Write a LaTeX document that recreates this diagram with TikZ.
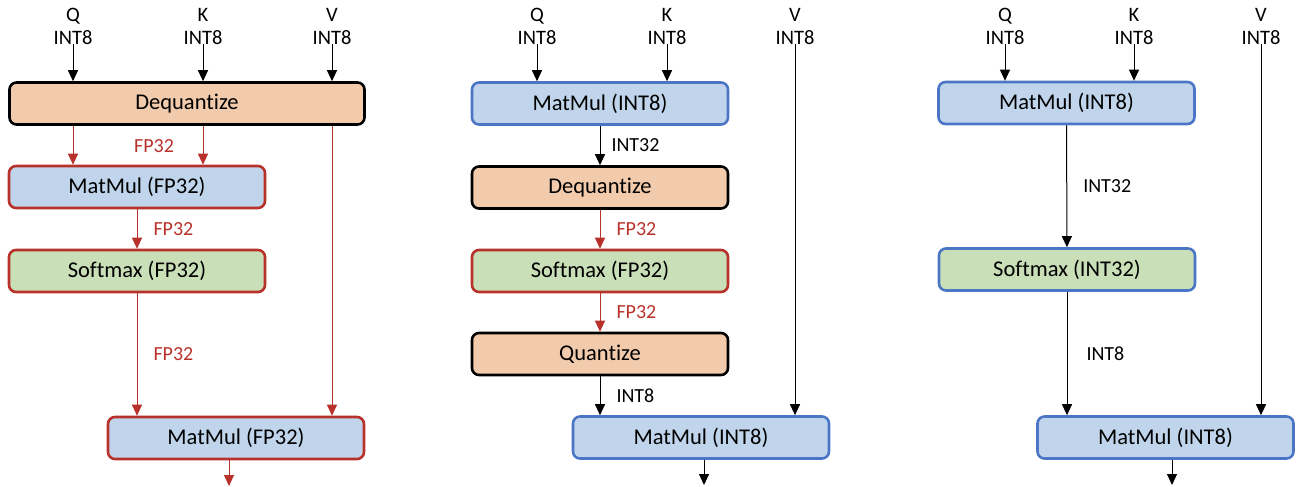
\documentclass[tikz,border=0pt]{standalone}
\usepackage{fontspec}
\setmainfont{Carlito}[RawFeature=-liga]
\usetikzlibrary{arrows.meta}

\definecolor{peach}{HTML}{F2CBAC}
\definecolor{lightblue}{HTML}{C0D5EB}
\definecolor{lightgreen}{HTML}{C9DFB8}
\definecolor{darkred}{HTML}{B8312A}
\definecolor{edgeblue}{HTML}{4A76C5}

\tikzset{
  op/.style={rounded corners=7pt, line width=2.6pt, minimum height=42pt,
    minimum width=256pt, inner sep=0pt, font=\fontsize{22.5}{26}\selectfont},
  quantbox/.style={op, draw=black, fill=peach},
  mmbox/.style={op, fill=lightblue},
  smbox/.style={op, fill=lightgreen},
  fpop/.style={draw=darkred},
  intop/.style={draw=edgeblue},
  input/.style={align=center, inner sep=0pt, font=\fontsize{20.5}{23}\selectfont},
  flow/.style={-{Triangle[width=10pt,length=11pt]}, line width=1pt},
  fpflow/.style={flow, darkred},
  dtype/.style={anchor=west, inner sep=0pt, xshift=16pt,
    font=\fontsize{20}{24}\selectfont},
}

\begin{document}
\begin{tikzpicture}[x=1pt, y=-1pt]
    \useasboundingbox (0,0) rectangle (1299,487);

    % Inputs of the three variants
    \foreach \p/\qx/\kx/\vx in {1/73/203/332, 2/537/667/795, 3/1005/1134/1261} {
        \node[input] (q\p) at (\qx,26) {Q\\INT8};
        \node[input] (k\p) at (\kx,26) {K\\INT8};
        \node[input] (v\p) at (\vx,26) {V\\INT8};
    }

    % Variant 1: everything in FP32
    \node[quantbox, minimum width=355pt] (deq1) at (187,103.5) {Dequantize};
    \node[mmbox, fpop] (mm1) at (137,187) {MatMul (FP32)};
    \node[smbox, fpop] (sm1) at (137,271) {Softmax (FP32)};
    \node[mmbox, fpop] (mmb1) at (236,438) {MatMul (FP32)};
    \coordinate (out1) at (229,486);

    \draw[flow] (q1) -- (q1 |- deq1.north);
    \draw[flow] (k1) -- (k1 |- deq1.north);
    \draw[flow] (v1) -- (v1 |- deq1.north);
    \draw[fpflow] (q1 |- deq1.south) -- (q1 |- mm1.north);
    \draw[fpflow] (k1 |- deq1.south) -- (k1 |- mm1.north);
    \node[dtype, darkred, anchor=center, xshift=0pt] (fp1) at (138,146) {FP32};
    \draw[fpflow] (mm1) -- (sm1) node[dtype, darkred, midway] {FP32};
    \draw[fpflow] (sm1.south) -- (sm1.south |- mmb1.north)
        node[dtype, darkred, midway] {FP32};
    \draw[fpflow] (v1 |- deq1.south) -- (v1 |- mmb1.north);
    \draw[fpflow] (mmb1.south -| out1) -- (out1);

    % Variant 2: INT8 MatMuls, FP32 Softmax
    \node[mmbox, intop] (mm2) at (600,103.5) {MatMul (INT8)};
    \node[quantbox] (deq2) at (600,187.5) {Dequantize};
    \node[smbox, fpop] (sm2) at (600,271) {Softmax (FP32)};
    \node[quantbox] (qnt2) at (600,354) {Quantize};
    \node[mmbox, intop] (mmb2) at (701,437.5) {MatMul (INT8)};
    \coordinate (out2) at (704,485);

    \draw[flow] (q2) -- (q2 |- mm2.north);
    \draw[flow] (k2) -- (k2 |- mm2.north);
    \draw[flow] (mm2) -- (deq2) node[dtype, midway, xshift=-5pt] {INT32};
    \draw[fpflow] (deq2) -- (sm2) node[dtype, darkred, midway] {FP32};
    \draw[fpflow] (sm2) -- (qnt2) node[dtype, darkred, midway] {FP32};
    \draw[flow] (qnt2.south) -- (qnt2.south |- mmb2.north)
        node[dtype, midway] {INT8};
    \draw[flow] (v2) -- (v2 |- mmb2.north);
    \draw[flow] (mmb2.south -| out2) -- (out2);

    % Variant 3: integer-only Softmax
    \node[mmbox, intop] (mm3) at (1066.5,103) {MatMul (INT8)};
    \node[smbox, intop] (sm3) at (1067,269.5) {Softmax (INT32)};
    \node[mmbox, intop] (mmb3) at (1165.5,437.5) {MatMul (INT8)};
    \coordinate (out3) at (1172,485);

    \draw[flow] (q3) -- (q3 |- mm3.north);
    \draw[flow] (k3) -- (k3 |- mm3.north);
    \draw[flow] (mm3) -- (sm3) node[dtype, midway] {INT32};
    \draw[flow] (sm3.south) -- (sm3.south |- mmb3.north)
        node[dtype, midway, xshift=3pt] {INT8};
    \draw[flow] (v3) -- (v3 |- mmb3.north);
    \draw[flow] (mmb3.south -| out3) -- (out3);
\end{tikzpicture}
\end{document}
